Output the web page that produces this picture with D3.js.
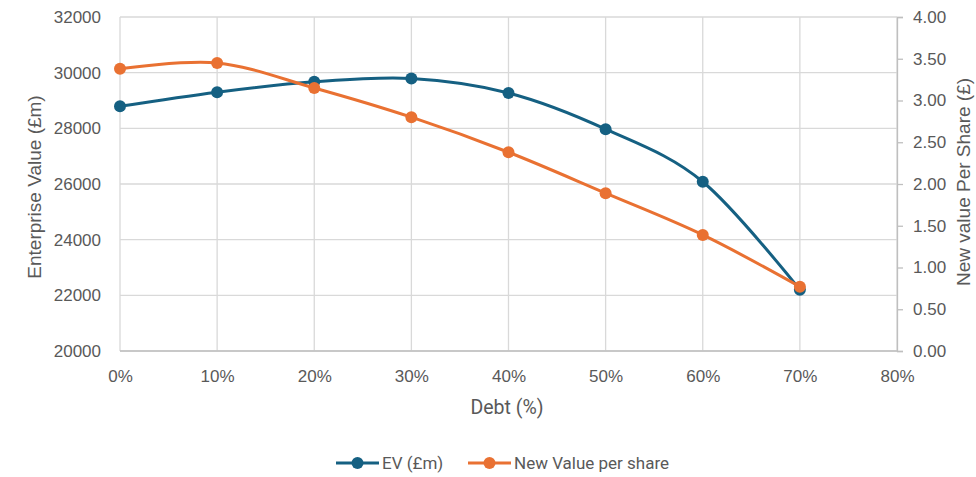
<!DOCTYPE html>
<html>
<head>
<meta charset="utf-8">
<script src="https://cdn.jsdelivr.net/npm/d3@7"></script>
<style>
    body { margin: 0; background: #fff; }
    .tick_label { font-family: "Liberation Sans", Arial, sans-serif; font-size: 17px; fill: #595959; }
    .axis_title { font-family: "Liberation Sans", Arial, sans-serif; font-size: 19px; fill: #595959; }
    .legend_text { font-family: Roboto, "Liberation Sans", sans-serif; font-size: 17px; fill: #595959; }
</style>
</head>
<body>
<div id="chart"></div>
<script>
// data
const debt = [0, 0.1, 0.2, 0.3, 0.4, 0.5, 0.6, 0.7];
const evValues = [28790, 29300, 29670, 29790, 29270, 27970, 26080, 22200];
const shareValues = [3.38, 3.45, 3.15, 2.80, 2.38, 1.89, 1.39, 0.77];
const xTicks = [0, 0.1, 0.2, 0.3, 0.4, 0.5, 0.6, 0.7, 0.8];
const leftTicks = [20000, 22000, 24000, 26000, 28000, 30000, 32000];
const rightTicks = [0, 0.5, 1, 1.5, 2, 2.5, 3, 3.5, 4];
const seriesNames = ["EV (£m)", "New Value per share"];
const colors = ["#156082", "#E97132"];

// plot area
const width = 976, height = 477;
const margin = {top: 17, right: 79, bottom: 126, left: 120};
const plotW = width - margin.left - margin.right;
const plotH = height - margin.top - margin.bottom;

let svg = d3.select("#chart")
    .append("svg")
    .attr("width", width)
    .attr("height", height);

let g = svg.append("g")
    .attr("transform", `translate(${margin.left},${margin.top})`);

let x = d3.scaleLinear().domain([0, 0.8]).range([0, plotW]);
let yLeft = d3.scaleLinear().domain([20000, 32000]).range([plotH, 0]);
let yRight = d3.scaleLinear().domain([0, 4]).range([plotH, 0]);

// gridlines
g.selectAll(".hgrid")
    .data(leftTicks)
    .enter().append("line")
    .attr("x1", 0).attr("x2", plotW)
    .attr("y1", d => yLeft(d)).attr("y2", d => yLeft(d))
    .attr("stroke", "#d9d9d9").attr("stroke-width", 1.3);

g.selectAll(".vgrid")
    .data(xTicks)
    .enter().append("line")
    .attr("x1", d => x(d)).attr("x2", d => x(d))
    .attr("y1", 0).attr("y2", plotH)
    .attr("stroke", "#d9d9d9").attr("stroke-width", 1.3);

// bottom axis line
g.append("line")
    .attr("x1", 0).attr("x2", plotW)
    .attr("y1", plotH).attr("y2", plotH)
    .attr("stroke", "#bfbfbf").attr("stroke-width", 1.3);

// right axis
let rightAxis = d3.axisRight(yRight)
    .tickValues(rightTicks)
    .tickSize(6)
    .tickPadding(10)
    .tickFormat(d3.format(".2f"));

let ra = g.append("g")
    .attr("transform", `translate(${plotW},0)`)
    .call(rightAxis);
ra.select(".domain").attr("stroke", "#bfbfbf").attr("stroke-width", 1.3);
ra.selectAll(".tick line").attr("stroke", "#bfbfbf").attr("stroke-width", 1.3);
ra.selectAll(".tick text").attr("class", "tick_label").attr("fill", null);

// left axis
let leftAxis = d3.axisLeft(yLeft)
    .tickValues(leftTicks)
    .tickSize(0)
    .tickPadding(19)
    .tickFormat(d3.format("d"));

let la = g.append("g").call(leftAxis);
la.select(".domain").remove();
la.selectAll(".tick text").attr("class", "tick_label").attr("fill", null);

// bottom axis
let bottomAxis = d3.axisBottom(x)
    .tickValues(xTicks)
    .tickSize(0)
    .tickPadding(19)
    .tickFormat(d3.format(".0%"));

let ba = g.append("g")
    .attr("transform", `translate(0,${plotH})`)
    .call(bottomAxis);
ba.select(".domain").remove();
ba.selectAll(".tick text").attr("class", "tick_label").attr("fill", null);

// lines
let evLine = d3.line()
    .x((d, i) => x(debt[i]))
    .y(d => yLeft(d))
    .curve(d3.curveCardinal.tension(0));

let shareLine = d3.line()
    .x((d, i) => x(debt[i]))
    .y(d => yRight(d))
    .curve(d3.curveCardinal.tension(0));

g.append("path")
    .datum(evValues)
    .attr("d", evLine)
    .attr("fill", "none")
    .attr("stroke", colors[0])
    .attr("stroke-width", 3);

g.selectAll(".ev_dot")
    .data(evValues)
    .enter().append("circle")
    .attr("cx", (d, i) => x(debt[i]))
    .attr("cy", d => yLeft(d))
    .attr("r", 6)
    .attr("fill", colors[0]);

g.append("path")
    .datum(shareValues)
    .attr("d", shareLine)
    .attr("fill", "none")
    .attr("stroke", colors[1])
    .attr("stroke-width", 3);

g.selectAll(".share_dot")
    .data(shareValues)
    .enter().append("circle")
    .attr("cx", (d, i) => x(debt[i]))
    .attr("cy", d => yRight(d))
    .attr("r", 6)
    .attr("fill", colors[1]);

// axis titles
svg.append("text")
    .classed("axis_title", true)
    .attr("transform", "translate(41,187) rotate(-90)")
    .attr("text-anchor", "middle")
    .text("Enterprise Value (£m)");

svg.append("text")
    .classed("axis_title", true)
    .attr("transform", "translate(970,182) rotate(-90)")
    .attr("text-anchor", "middle")
    .text("New value Per Share (£)");

svg.append("text")
    .classed("legend_text", true)
    .style("font-size", "19.5px")
    .attr("x", 507)
    .attr("y", 414)
    .attr("text-anchor", "middle")
    .text("Debt (%)");

// legend
let legendX = [336, 468];
let legend = svg.selectAll(".legend_item")
    .data(seriesNames)
    .enter().append("g")
    .attr("transform", (d, i) => `translate(${legendX[i]},463)`);

legend.append("line")
    .attr("x1", 0).attr("x2", 43)
    .attr("y1", 0).attr("y2", 0)
    .attr("stroke", (d, i) => colors[i])
    .attr("stroke-width", 3);

legend.append("circle")
    .attr("cx", 21.5).attr("cy", 0).attr("r", 6)
    .attr("fill", (d, i) => colors[i]);

legend.append("text")
    .classed("legend_text", true)
    .attr("x", 46)
    .attr("y", 0)
    .attr("dy", "0.35em")
    .text(d => d);
</script>
</body>
</html>
